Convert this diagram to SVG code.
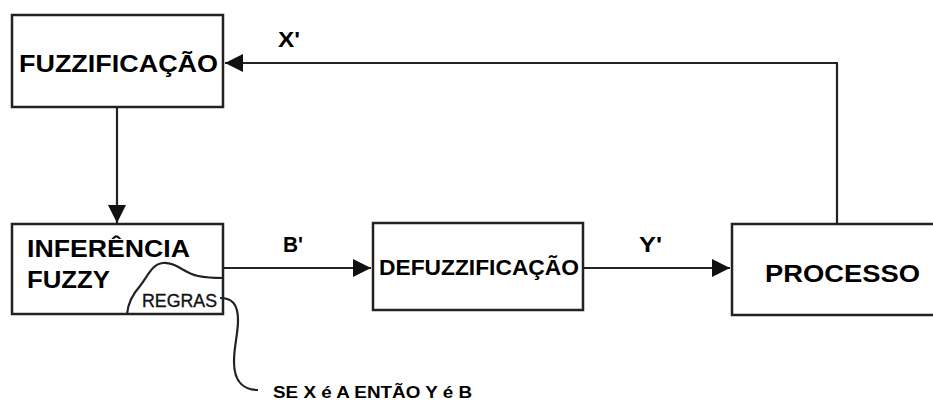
<svg xmlns="http://www.w3.org/2000/svg" width="933" height="401" viewBox="0 0 933 401">
  <defs>
    <marker id="arrow" viewBox="0 0 10 10" refX="10" refY="5" markerWidth="19" markerHeight="18" markerUnits="userSpaceOnUse" orient="auto">
      <path d="M0,0 L10,5 L0,10 Z" fill="#111"/>
    </marker>
    <style>
      .box { fill: #fff; stroke: #222; stroke-width: 2.5; }
      .wire { fill: none; stroke: #222; stroke-width: 2.2; }
      .lbl { font-family: "Liberation Sans", Arial, sans-serif; font-weight: bold; fill: #000; }
      .small { font-family: "Liberation Sans", Arial, sans-serif; fill: #111; stroke: #111; stroke-width: 0.35; }
    </style>
  </defs>
  <rect width="933" height="401" fill="#fff"/>

  <g id="connectors">
    <!-- feedback from PROCESSO back to FUZZIFICAÇÃO -->
    <path class="wire" d="M837,224 L837,63 L225,63" marker-end="url(#arrow)"/>
    <!-- FUZZIFICAÇÃO down to INFERÊNCIA FUZZY -->
    <path class="wire" d="M117,107 L117,223" marker-end="url(#arrow)"/>
    <!-- INFERÊNCIA to DEFUZZIFICAÇÃO -->
    <path class="wire" d="M223,268 L371,268" marker-end="url(#arrow)"/>
    <!-- DEFUZZIFICAÇÃO to PROCESSO -->
    <path class="wire" d="M583,268 L730,268" marker-end="url(#arrow)"/>
    <text class="lbl" x="278" y="47" font-size="22" textLength="22" lengthAdjust="spacingAndGlyphs">X'</text>
    <text class="lbl" x="283" y="252" font-size="22" textLength="20" lengthAdjust="spacingAndGlyphs">B'</text>
    <text class="lbl" x="639" y="252" font-size="22" textLength="23" lengthAdjust="spacingAndGlyphs">Y'</text>
  </g>

  <g id="fuzzificacao">
    <rect class="box" x="12" y="15" width="211" height="92"/>
    <text class="lbl" x="19" y="72" font-size="24" textLength="199" lengthAdjust="spacingAndGlyphs">FUZZIFICAÇÃO</text>
  </g>

  <g id="inferencia">
    <rect class="box" x="12" y="224" width="211" height="90"/>
    <text class="lbl" x="27" y="257" font-size="24" textLength="163" lengthAdjust="spacingAndGlyphs">INFERÊNCIA</text>
    <text class="lbl" x="27" y="288" font-size="24" textLength="83" lengthAdjust="spacingAndGlyphs">FUZZY</text>
    <!-- rule base region inside the inference block -->
    <path class="wire" d="M127,314 C128,303 132,295 140,286 C148,276 152,264 163,263 C176,262 184,273 198,276 C208,278 215,278 223,278"/>
    <text class="small" x="142" y="307" font-size="18" textLength="75" lengthAdjust="spacingAndGlyphs">REGRAS</text>
  </g>

  <g id="regras-nota">
    <path class="wire" d="M220,298 C232,298 238,304 238,320 C238,335 234,345 234,362 C234,384 246,390 258,390"/>
    <text class="lbl" x="273" y="398" font-size="16.5" textLength="199" lengthAdjust="spacingAndGlyphs">SE X é A ENTÃO Y é B</text>
  </g>

  <g id="defuzzificacao">
    <rect class="box" x="373" y="223" width="210" height="87"/>
    <text class="lbl" x="379" y="275" font-size="22" textLength="200" lengthAdjust="spacingAndGlyphs">DEFUZZIFICAÇÃO</text>
  </g>

  <g id="processo">
    <path class="box" d="M945,224 L732,224 L732,315 L945,315"/>
    <text class="lbl" x="765" y="282" font-size="24" textLength="155" lengthAdjust="spacingAndGlyphs">PROCESSO</text>
  </g>
</svg>
